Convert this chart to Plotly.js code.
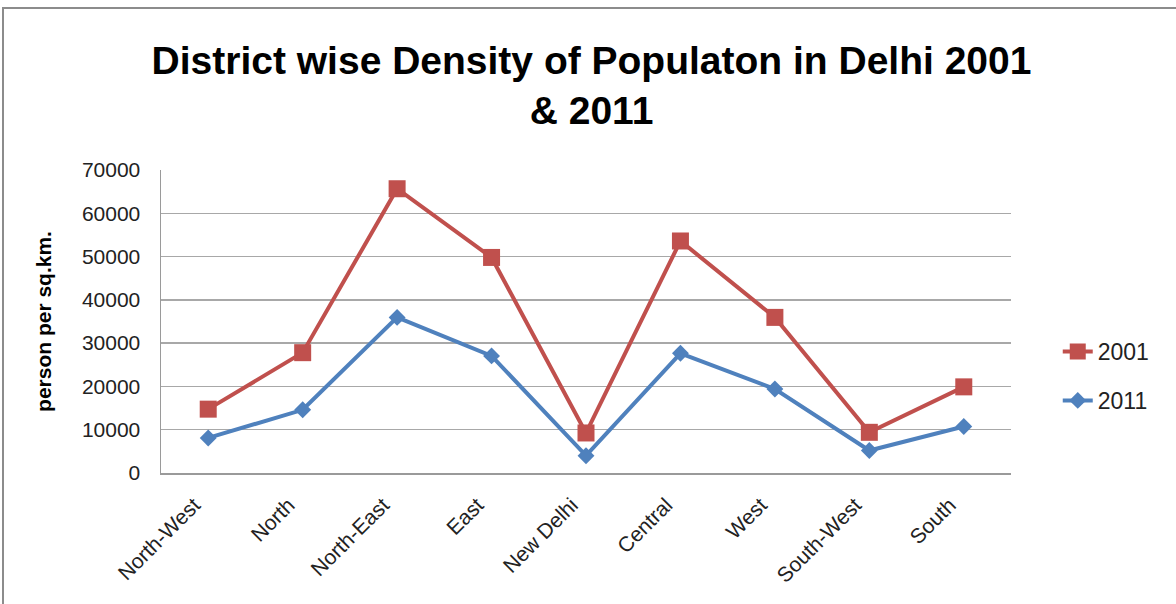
<!DOCTYPE html>
<html>
<head>
<meta charset="utf-8">
<script src="https://cdn.plot.ly/plotly-3.0.1.min.js"></script>
<style>
html,body{margin:0;padding:0;background:#fff;overflow:hidden;}
#chart{width:1176px;height:604px;position:absolute;left:0;top:0;}
#frame{position:absolute;left:2px;top:7px;width:1200px;height:700px;border-left:2px solid #8c8c8c;border-top:2px solid #8c8c8c;pointer-events:none;}
</style>
</head>
<body>
<div id="chart"></div>
<div id="frame"></div>
<script>
const districts = ["North-West","North","North-East","East","New Delhi","Central","West","South-West","South"];
const density2001 = [14750, 27800, 65670, 49800, 9250, 53600, 35950, 9400, 19900];
const density2011 = [8100, 14600, 35950, 27050, 4000, 27650, 19400, 5200, 10750];
const yTicks = [0, 10000, 20000, 30000, 40000, 50000, 60000, 70000];

const traces = [
  {
    x: districts, y: density2001, name: "2001", type: "scatter", mode: "lines+markers",
    legendgroup: "a",
    line: {color: "#C0504D", width: 4},
    marker: {symbol: "square", size: 17, color: "#C0504D"}
  },
  {
    x: districts, y: density2011, name: "2011", type: "scatter", mode: "lines+markers",
    legendgroup: "b",
    line: {color: "#4F81BD", width: 4},
    marker: {symbol: "diamond", size: 13, color: "#4F81BD"}
  }
];

const layout = {
  width: 1176, height: 604,
  margin: {l: 161, r: 165, t: 170, b: 131},
  paper_bgcolor: "rgba(0,0,0,0)",
  plot_bgcolor: "#fff",
  font: {family: "Liberation Sans, Arial, sans-serif", color: "#222", size: 20},
  title: {
    text: "District wise Density of Populaton in Delhi 2001<br>& 2011",
    font: {family: "Liberation Sans, Arial, sans-serif", size: 39, color: "#000", weight: "bold"},
    x: 0.503, xanchor: "center", y: 0.878, yanchor: "top", yref: "container"
  },
  xaxis: {
    type: "category",
    showgrid: false, showline: true, linecolor: "#9a9a9a", linewidth: 1.5,
    ticks: "", tickangle: -45, tickfont: {size: 21, color: "#222"},
    ticklabelstandoff: 10, ticklabelshift: -14,
    range: [-0.5, 8.5], fixedrange: true
  },
  yaxis: {
    range: [0, 70000], tickvals: yTicks, ticktext: yTicks.map(String),
    showgrid: true, gridcolor: "#a8a8a8", gridwidth: 1.5,
    showline: true, linecolor: "#9a9a9a", linewidth: 1.5,
    zeroline: false, ticks: "", ticklen: 0,
    tickfont: {size: 21, color: "#222"},
    ticklabelstandoff: 15,
    title: {text: "person per sq.km.", font: {size: 21, color: "#000", weight: "bold"}, standoff: 24}
  },
  showlegend: true,
  legend: {
    x: 1.055, xanchor: "left", y: 0.32, yanchor: "middle",
    font: {size: 23, color: "#222"},
    tracegroupgap: 16, traceorder: "grouped",
    bgcolor: "rgba(0,0,0,0)"
  }
};

Plotly.newPlot("chart", traces, layout, {displayModeBar: false, staticPlot: true});
</script>
</body>
</html>
